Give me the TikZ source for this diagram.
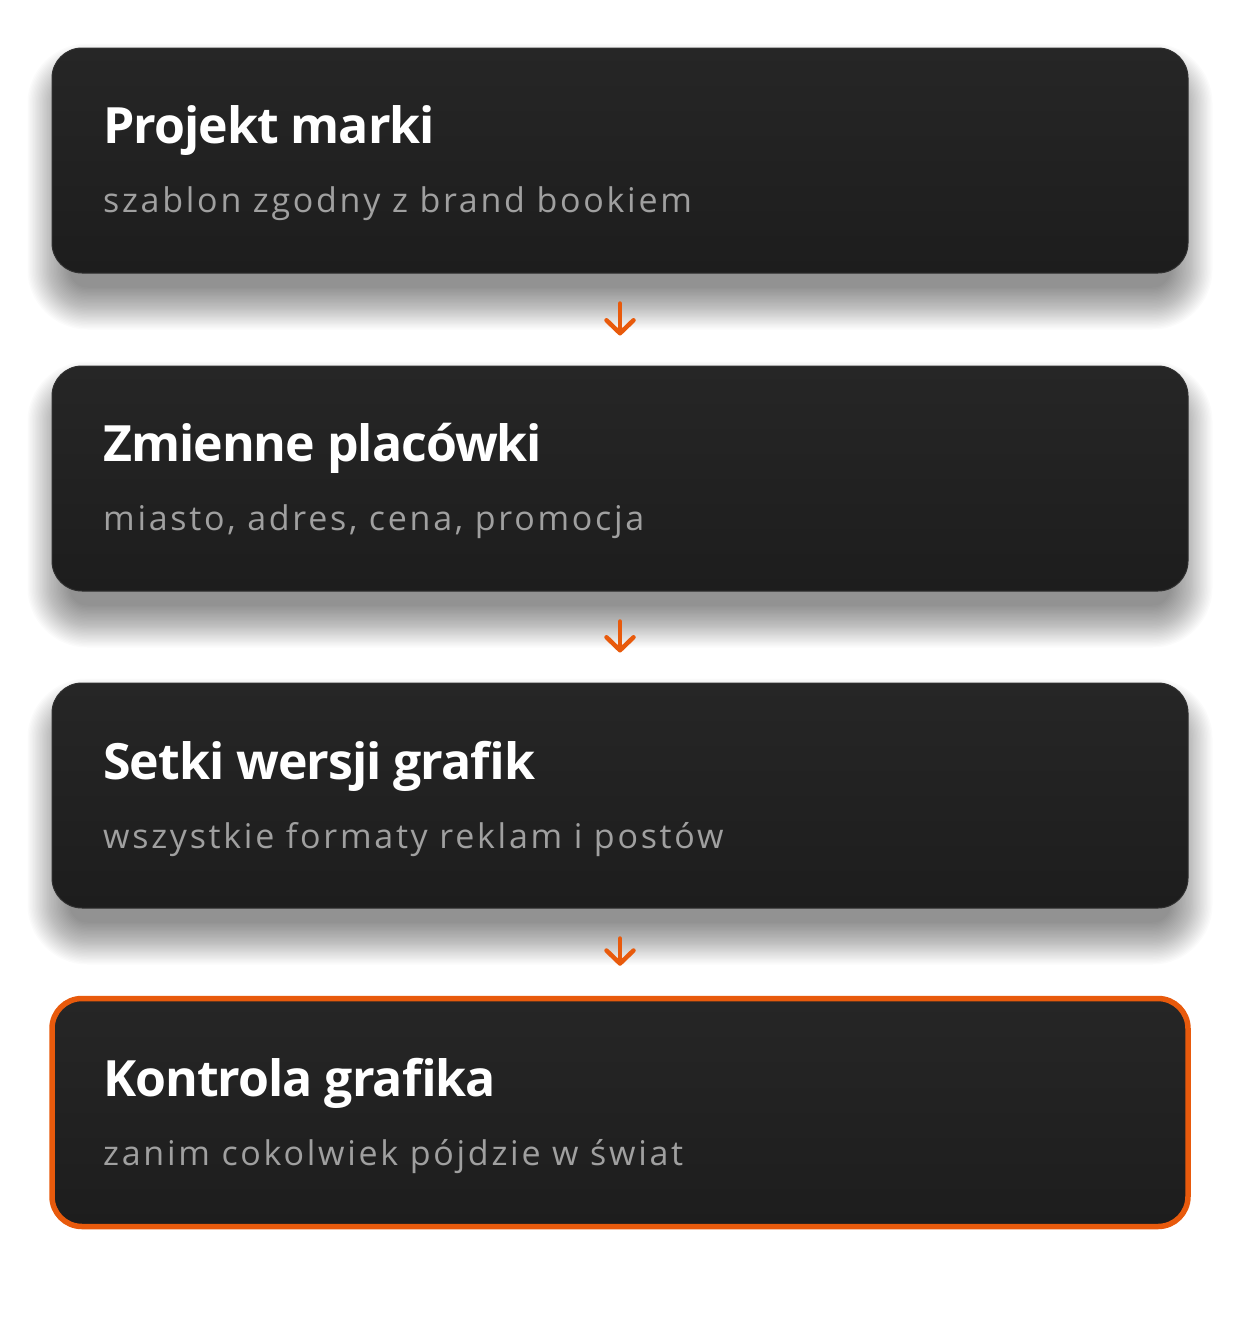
\documentclass[tikz,border=0pt]{standalone}
\usepackage{fontspec}
\setmainfont{Open Sans}
\usetikzlibrary{positioning,arrows.meta,backgrounds}
\definecolor{cardtop}{HTML}{262626}
\definecolor{cardbot}{HTML}{1D1D1D}
\definecolor{cardedge}{HTML}{303030}
\definecolor{subgray}{HTML}{A0A0A0}
\definecolor{accent}{HTML}{E85A0C}

\begin{document}
\begin{tikzpicture}[x=1pt,y=-1pt,
    card/.style={rounded corners=30pt, minimum width=1136pt, minimum height=225pt, inner sep=0pt,
      top color=cardtop, bottom color=cardbot, draw=cardedge, line width=1pt},
    title/.style={anchor=base west, inner sep=0pt, text=white, font=\fontsize{50}{50}\selectfont\bfseries\addfontfeatures{LetterSpace=-2}},
    sub/.style={anchor=base west, inner sep=0pt, text=subgray, font=\fontsize{34}{34}\selectfont\addfontfeatures{LetterSpace=8}},
    flow/.style={draw=accent, line width=4.5pt, line cap=round,
      -{Straight Barb[length=13pt,width=27pt,line cap=round,round]}, shorten <=30pt, shorten >=30pt}]
  \useasboundingbox (0,0) rectangle (1240,1328);
  % cards
  \node[card] (projekt) at (620,160.5) {};
  \node[card] (zmienne) at (620,478.5) {};
  \node[card] (setki) at (620,795.5) {};
  \node[card, draw=accent, line width=5.5pt, minimum height=228pt] (kontrola) at (620,1112.5) {};
  % soft shadows under the first three cards
  \begin{pgfonlayer}{background}
    \fill[white] (0,0) rectangle (1240,1328);
    \foreach \c in {projekt,zmienne,setki}
      \foreach \i in {0,...,30} {
        \pgfmathsetmacro\e{\i*1.4-12}
        \pgfmathsetmacro\h{\e-6}
        \pgfmathsetmacro\r{30+\e}
        \fill[black, opacity=0.016, rounded corners=\r pt]
          ([shift={(-\h,26-\e)}]\c.north west) rectangle ([shift={(\h,26+\e)}]\c.south east);
      }
  \end{pgfonlayer}
  % texts
  \node[title] (projekt-t) at (103,143) {Projekt marki};
  \node[sub] (projekt-s) at (103,212) {szablon zgodny z brand bookiem};
  \node[title] (zmienne-t) at (103,461) {Zmienne placówki};
  \node[sub] (zmienne-s) at (103,530) {miasto, adres, cena, promocja};
  \node[title] (setki-t) at (103,779) {Setki wersji grafik};
  \node[sub] (setki-s) at (103,848) {wszystkie formaty reklam i postów};
  \node[title] (kontrola-t) at (103,1096) {Kontrola grafika};
  \node[sub] (kontrola-s) at (103,1165) {zanim cokolwiek pójdzie w świat};
  % arrows
  \draw[flow] (projekt.south) -- (zmienne.north);
  \draw[flow] (zmienne.south) -- (setki.north);
  \draw[flow] (setki.south) -- (kontrola.north);
\end{tikzpicture}
\end{document}
